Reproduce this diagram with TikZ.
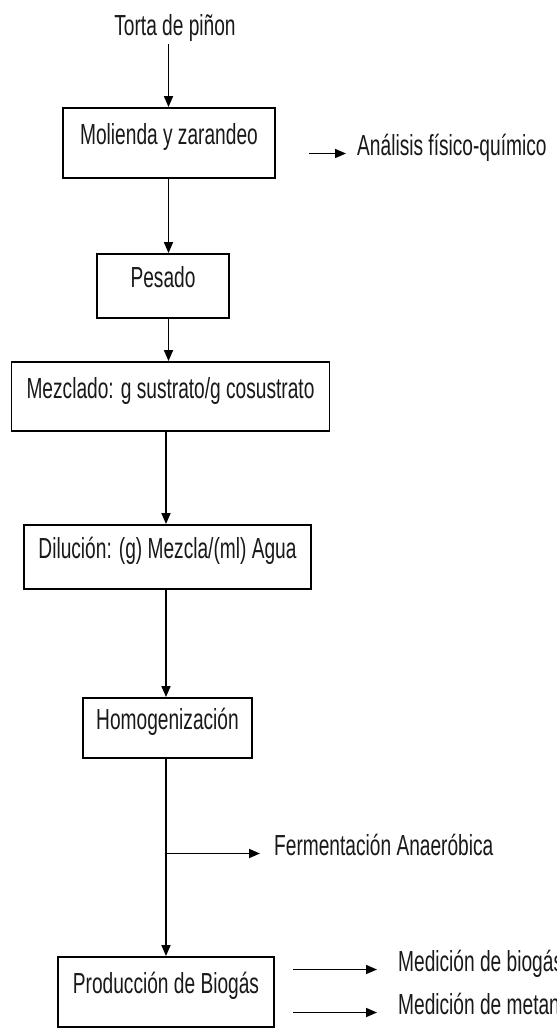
\documentclass[tikz,border=0pt]{standalone}
\usepackage{fontspec}
\setmainfont{Liberation Sans}[FakeStretch=0.66]
\usetikzlibrary{arrows.meta}
\begin{document}
\begin{tikzpicture}[x=1pt,y=-1pt,
  every node/.style={font=\fontsize{29}{34}\selectfont, text=black!90, text height=0.72em, text depth=0.42em},
  box/.style={draw, line width=1.9pt, inner sep=0pt, minimum width=#1},
  conn/.style={line width=1.7pt, -{Triangle[length=11pt,width=9pt]}},
  side/.style={anchor=base west, inner ysep=0pt}]
\useasboundingbox (0,0) rectangle (557,1029);
\clip (0,0) rectangle (557,1029);
\fill[white] (0,0) rectangle (557,1029);
\coordinate (sa) at (168.5,0);
\coordinate (sb) at (166,0);
\node[anchor=base, inner ysep=5pt] (torta) at (175,35) {Torta de piñon};
\node[box=212pt, minimum height=70pt] (b1) at (169,143) {Molienda y zarandeo};
\node[box=132pt, minimum height=64pt] (b2) at (163,286) {Pesado};
\node[box=318pt, minimum height=69pt] (b3) at (170.5,396.5) {Mezclado: g sustrato/g cosustrato};
\node[box=287pt, minimum height=64pt] (b4) at (167.5,557) {Dilución: (g) Mezcla/(ml) Agua};
\node[box=169pt, minimum height=60pt] (b5) at (167.5,728) {Homogenización};
\node[box=216pt, minimum height=70pt] (b6) at (166,992) {Producción de Biogás};
\node[side, inner xsep=11pt] (ana) at (346,155) {Análisis físico-químico};
\node[side, inner xsep=14pt] (fer) at (260,855) {Fermentación Anaeróbica};
\node[side, inner xsep=21pt] (bio) at (377,971) {Medición de biogás};
\node[side, inner xsep=21pt] (met) at (377,1014) {Medición de metano};
\draw[conn] (torta.south -| sa) -- (b1.north -| sa);
\draw[conn] (b1.south -| sa) -- (b2.north -| sa);
\draw[conn] (b2.south -| sa) -- (b3.north -| sa);
\draw[conn] (b3.south -| sb) -- (b4.north -| sb);
\draw[conn] (b4.south -| sb) -- (b5.north -| sb);
\draw[conn] (b5.south -| sb) -- (b6.north -| sb);
\draw[conn] (fer.west -| sb) -- (fer.west);
\draw[conn] ([xshift=-37pt]ana.west) -- (ana.west);
\draw[conn] ([xshift=-84pt]bio.west) -- (bio.west);
\draw[conn] ([xshift=-84pt]met.west) -- (met.west);
\end{tikzpicture}
\end{document}
